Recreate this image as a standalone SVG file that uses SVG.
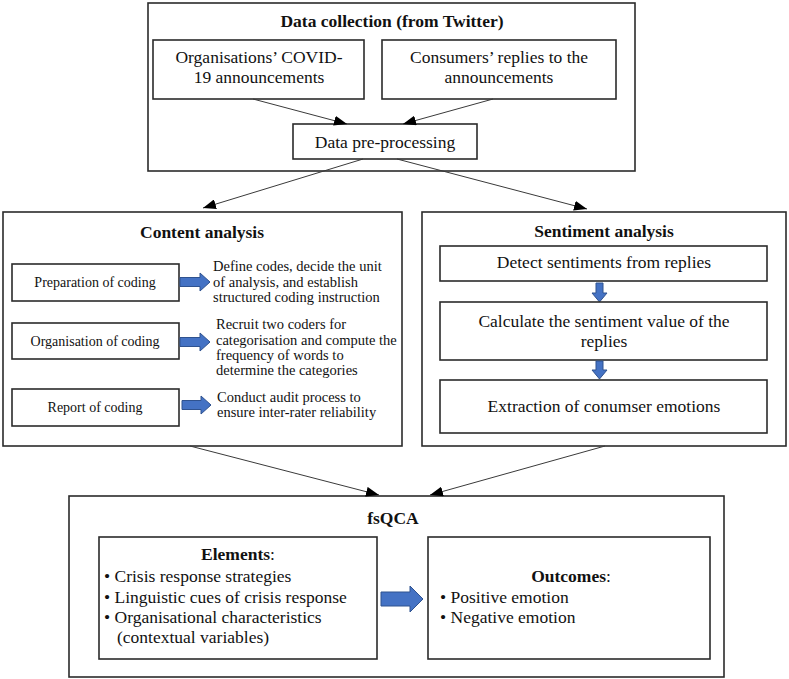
<svg xmlns="http://www.w3.org/2000/svg" width="789" height="679" viewBox="0 0 789 679">
<defs>
<style>
text{fill:#111}
.box{fill:#fff;stroke:#2b2b2b;stroke-width:1.6}
.t{font-size:17.5px;text-anchor:middle}
.b{font-weight:bold}
.s{font-size:14px;text-anchor:middle}
.d{font-size:14.5px}
.l{font-size:17.5px}
.con{stroke:#3a3a3a;stroke-width:1;fill:none;marker-end:url(#ah)}
.blue{fill:#4472c4;stroke:#2f528f;stroke-width:1}
</style>
<marker id="ah" markerUnits="userSpaceOnUse" markerWidth="14" markerHeight="10" refX="13" refY="5" orient="auto">
<path d="M0,0 L13,5 L0,10 Z" fill="#000"/>
</marker>
</defs>
<g font-family="'Liberation Serif', 'Times New Roman', Tinos, 'DejaVu Serif', serif">

<g id="data-collection">
<rect class="box" x="148" y="3" width="487" height="168"/>
<text class="t b" x="392" y="27">Data collection (from Twitter)</text>
</g>
<g id="org-announcements">
<rect class="box" x="153" y="40" width="211" height="59"/>
<text class="t" x="259" y="63">Organisations’ COVID-</text>
<text class="t" x="259" y="83">19 announcements</text>
</g>
<g id="consumer-replies">
<rect class="box" x="382" y="40" width="234" height="59"/>
<text class="t" x="499" y="63">Consumers’ replies to the</text>
<text class="t" x="499" y="83">announcements</text>
</g>
<g id="pre-processing">
<rect class="box" x="293" y="124" width="184" height="35"/>
<text class="t" x="385" y="148">Data pre-processing</text>
</g>

<g id="content-analysis">
<rect class="box" x="3" y="212" width="399" height="234"/>
<text class="t b" x="202" y="238">Content analysis</text>
<rect class="box" x="12" y="264" width="167" height="37"/>
<text class="s" x="95" y="287">Preparation of coding</text>
<path class="blue" d="M180,277.5 H200 V273 L210,282 L200,291 V286.5 H180 Z"/>
<text class="d" x="213" y="271">Define codes, decide the unit</text>
<text class="d" x="213" y="287">of analysis, and establish</text>
<text class="d" x="213" y="302">structured coding instruction</text>
<rect class="box" x="12" y="323" width="167" height="36"/>
<text class="s" x="95" y="346">Organisation of coding</text>
<path class="blue" d="M180,337.5 H200 V333 L210,342 L200,351 V346.5 H180 Z"/>
<text class="d" x="216" y="329">Recruit two coders for</text>
<text class="d" x="216" y="345">categorisation and compute the</text>
<text class="d" x="216" y="360">frequency of words to</text>
<text class="d" x="216" y="375">determine the categories</text>
<rect class="box" x="12" y="389" width="167" height="37"/>
<text class="s" x="95" y="412">Report of coding</text>
<path class="blue" d="M182,400.5 H201 V396 L211,405 L201,414 V409.5 H182 Z"/>
<text class="d" x="217" y="402">Conduct audit process to</text>
<text class="d" x="217" y="417">ensure inter-rater reliability</text>
</g>

<g id="sentiment-analysis">
<rect class="box" x="422" y="212" width="364" height="234"/>
<text class="t b" x="604" y="237">Sentiment analysis</text>
<rect class="box" x="440" y="246" width="327" height="35"/>
<text class="t" x="604" y="268">Detect sentiments from replies</text>
<path class="blue" d="M596,283 H603 V293 H607 L599.5,302 L592,293 H596 Z"/>
<rect class="box" x="440" y="302" width="327" height="58"/>
<text class="t" x="604" y="327">Calculate the sentiment value of the</text>
<text class="t" x="604" y="347">replies</text>
<path class="blue" d="M596,361 H603 V370 H607 L599.5,379 L592,370 H596 Z"/>
<rect class="box" x="440" y="380" width="327" height="53"/>
<text class="t" x="604" y="412">Extraction of conumser emotions</text>
</g>

<g id="fsqca">
<rect class="box" x="69" y="496" width="655" height="181"/>
<text class="t b" x="393" y="524">fsQCA</text>
</g>
<g id="elements">
<rect class="box" x="99" y="537" width="278" height="122"/>
<text class="t" x="238" y="560"><tspan font-weight="bold">Elements</tspan>:</text>
<text class="l" x="104" y="582">• Crisis response strategies</text>
<text class="l" x="104" y="603">• Linguistic cues of crisis response</text>
<text class="l" x="104" y="623">• Organisational characteristics</text>
<text class="l" x="117" y="643">(contextual variables)</text>
</g>
<path class="blue" d="M381,592 H410 V586 L423,599 L410,612 V606 H381 Z"/>
<g id="outcomes">
<rect class="box" x="428" y="537" width="282" height="122"/>
<text class="t" x="571" y="582"><tspan font-weight="bold">Outcomes</tspan>:</text>
<text class="l" x="440" y="603">• Positive emotion</text>
<text class="l" x="440" y="623">• Negative emotion</text>
</g>
</g>

<g id="connectors">
<line class="con" x1="253" y1="99" x2="347" y2="124"/>
<line class="con" x1="493" y1="99" x2="403" y2="124"/>
<line class="con" x1="363" y1="159" x2="203" y2="208"/>
<line class="con" x1="397" y1="159" x2="587" y2="209"/>
<line class="con" x1="190" y1="446" x2="379" y2="495"/>
<line class="con" x1="605" y1="446" x2="430" y2="495"/>
</g>
</svg>
